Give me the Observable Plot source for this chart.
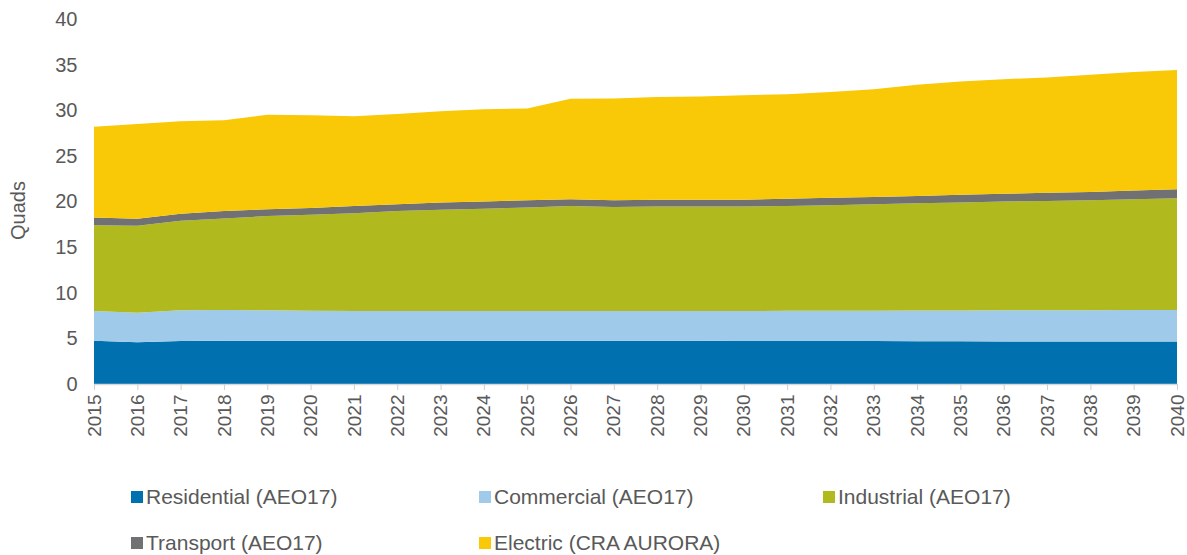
<!DOCTYPE html>
<html><head><meta charset="utf-8">
<script src="https://cdn.jsdelivr.net/npm/d3@7"></script>
<script src="https://cdn.jsdelivr.net/npm/@observablehq/plot@0.6"></script>
<style>
body{margin:0;background:#fff;font-family:"Liberation Sans",Arial,sans-serif;}
#wrap{position:relative;width:1187px;height:555px;overflow:hidden;}
.lg{position:absolute;font-size:21px;line-height:24px;color:#595959;white-space:nowrap;}
.sw{position:absolute;width:12px;height:12px;}
</style></head><body><div id="wrap"></div>
<script>
const years = [2015,2016,2017,2018,2019,2020,2021,2022,2023,2024,2025,2026,2027,2028,2029,2030,2031,2032,2033,2034,2035,2036,2037,2038,2039,2040];
const residential = [4.75,4.57,4.71,4.75,4.75,4.75,4.75,4.75,4.75,4.75,4.75,4.75,4.74,4.74,4.73,4.72,4.71,4.70,4.70,4.69,4.68,4.67,4.67,4.66,4.65,4.65];
const commercial = [3.25,3.23,3.37,3.35,3.33,3.27,3.25,3.25,3.25,3.25,3.25,3.25,3.26,3.26,3.27,3.28,3.31,3.33,3.34,3.36,3.38,3.40,3.41,3.43,3.45,3.45];
const industrial = [9.40,9.55,9.82,10.05,10.32,10.53,10.70,10.95,11.10,11.20,11.35,11.50,11.40,11.45,11.45,11.45,11.48,11.57,11.66,11.75,11.84,11.93,11.97,12.06,12.15,12.25];
const transport = [0.85,0.75,0.75,0.80,0.75,0.75,0.80,0.75,0.80,0.80,0.80,0.75,0.75,0.75,0.75,0.75,0.80,0.80,0.80,0.80,0.85,0.85,0.90,0.90,0.95,1.00];
const electric = [9.95,10.40,10.15,9.95,10.35,10.15,9.85,9.90,10.00,10.10,10.05,11.00,11.15,11.25,11.30,11.45,11.45,11.60,11.80,12.20,12.40,12.55,12.65,12.85,13.00,13.05];
const seriesNames = ["Residential (AEO17)","Commercial (AEO17)","Industrial (AEO17)","Transport (AEO17)","Electric (CRA AURORA)"];
const seriesColors = ["#0070af","#9fcaea","#b0ba1f","#717073","#f9c806"];
const yTicks = [0,5,10,15,20,25,30,35,40];
const yTitle = "Quads";

const seriesValues = [residential, commercial, industrial, transport, electric];
const data = [];
seriesNames.forEach((s, i) => years.forEach((yr, j) => data.push({year: yr, series: s, value: seriesValues[i][j]})));

const chart = Plot.plot({
  width: 1187, height: 450,
  marginLeft: 94, marginRight: 10, marginTop: 19, marginBottom: 66,
  style: {fontFamily: "Liberation Sans, Arial, sans-serif", fontSize: "20px", color: "#595959", background: "#fff", overflow: "visible"},
  x: {domain: [2015, 2040]},
  y: {domain: [0, 40]},
  color: {domain: seriesNames, range: seriesColors},
  marks: [
    Plot.areaY(data, {x: "year", y: "value", fill: "series", order: seriesNames, curve: "linear"}),
    Plot.ruleY([0], {stroke: "#d9d9d9", strokeWidth: 1.5}),
    Plot.axisX({ticks: years, tickFormat: d => String(d), tickRotate: -90, tickSize: 6, tickPadding: 4, stroke: "#d0d0d0", fill: "#595959", fontSize: 19, label: null}),
    Plot.axisY({ticks: yTicks, tickSize: 0, tickPadding: 17, fill: "#595959", label: null}),
    Plot.text([yTitle], {frameAnchor: "left", dx: -76, dy: 38, rotate: -90, fontSize: 20, fill: "#595959"})
  ]
});
const wrap = document.getElementById("wrap");
wrap.appendChild(chart);

const legendPos = [[131,485],[479,485],[823,485],[131,531],[479,531]];
seriesNames.forEach((s, i) => {
  const [lx, ly] = legendPos[i];
  const sw = document.createElement("div");
  sw.className = "sw";
  sw.style.left = lx + "px"; sw.style.top = (ly + 6) + "px"; sw.style.background = seriesColors[i];
  wrap.appendChild(sw);
  const t = document.createElement("div");
  t.className = "lg";
  t.style.left = (lx + 15) + "px"; t.style.top = ly + "px";
  t.textContent = s;
  wrap.appendChild(t);
});
</script></body></html>
